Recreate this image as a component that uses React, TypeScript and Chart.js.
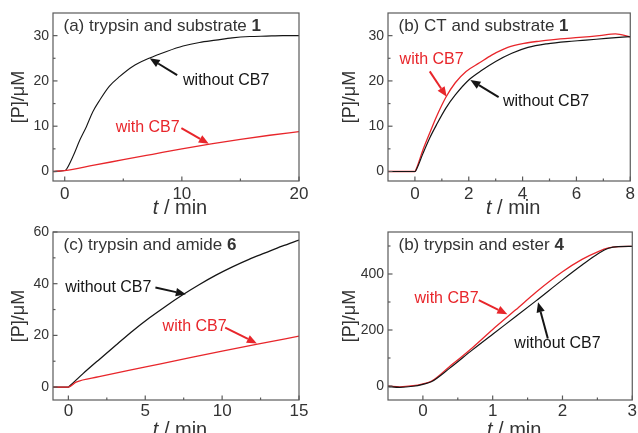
import React, { useEffect, useRef } from "react";
import { Chart, registerables } from "chart.js";
Chart.register(...registerables);

const FONT = "'Liberation Sans', Arial, sans-serif";
const TEXT = "#333333";
const RED = "#e8262b";
const BLACK = "#151515";
const FRAME = "#5a5a5a";

// ---------- Panel (a): trypsin and substrate 1 ----------
const tA_black = [-1, 0, 0.15, 0.7, 1.3, 1.85, 2.4, 3.0, 3.8, 4.7, 5.8, 7.2, 8.7, 10.1, 11.5, 12.9, 14.3, 15.8, 17.2, 18.6, 20];
const pA_black = [0, 0.2, 0.5, 3.3, 7.0, 9.9, 13.2, 15.8, 18.8, 21.0, 23.2, 25.0, 26.5, 27.7, 28.5, 29.0, 29.5, 29.8, 29.9, 30.0, 30.0];
const tA_red = [-1, 0, 2.5, 5, 7.5, 10, 12.5, 15, 17.5, 20];
const pA_red = [0, 0.2, 1.4, 2.6, 3.8, 5.0, 6.1, 7.1, 8.0, 8.8];

// ---------- Panel (b): CT and substrate 1 ----------
const tB_red = [-1, 0, 0.06, 0.3, 0.55, 0.8, 1.15, 1.5, 1.9, 2.4, 2.85, 3.45, 4.05, 4.65, 5.4, 6.1, 6.85, 7.45, 8];
const pB_red = [0, 0, 0.7, 4.8, 8.5, 12.1, 16.4, 19.6, 22.1, 24.0, 25.7, 27.4, 28.3, 28.8, 29.3, 29.6, 30.0, 30.4, 29.7];
const tB_black = [-1, 0, 0.06, 0.3, 0.55, 0.8, 1.15, 1.5, 2.0, 2.5, 3.0, 3.6, 4.2, 4.9, 5.65, 6.35, 7.1, 8];
const pB_black = [0, 0, 0.5, 4.0, 7.4, 10.3, 14.0, 16.9, 20.2, 22.4, 24.3, 26.1, 27.4, 28.2, 28.7, 29.0, 29.4, 29.8];

// ---------- Panel (c): trypsin and amide 6 ----------
const tC_black = [-1, 0, 0.1, 0.97, 2.05, 3.13, 4.2, 5.28, 6.36, 7.44, 8.5, 9.6, 10.67, 11.75, 12.8, 13.9, 15];
const pC_black = [0, 0, 0.5, 5.3, 10.9, 16.4, 21.8, 26.8, 31.4, 35.7, 39.6, 43.3, 46.5, 49.4, 51.9, 54.5, 56.9];
const tC_red = [-1, 0, 0.5, 2, 4, 6, 8, 10, 12.3, 15];
const pC_red = [0, 0, 1.9, 4.0, 6.6, 9.0, 11.5, 13.9, 16.6, 19.7];

// ---------- Panel (d): trypsin and ester 4 ----------
const tD = [-0.5, -0.33, -0.14, 0, 0.12, 0.38, 0.71, 1.0, 1.33, 1.62, 2.0, 2.28, 2.52, 2.66, 2.8, 3.0];
const pD_black = [-2, -5, -1, 6, 15, 63, 129, 185, 248, 304, 379, 432, 474, 492, 498, 499];
const pD_red = [0, -3, 1, 8, 17, 69, 137, 202, 272, 335, 408, 452, 481, 493, 498, 499];

// ---------- tick values ----------
const xMajorA = [0, 10, 20];
const xMinorA = [5, 15];
const yMajorAB = [0, 10, 20, 30];
const yMinorAB = [5, 15, 25];
const xMajorB = [0, 2, 4, 6, 8];
const xMinorB = [1, 3, 5, 7];
const xMajorC = [0, 5, 10, 15];
const xMinorC = [2.5, 7.5, 12.5];
const yMajorC = [0, 20, 40, 60];
const yMinorC = [10, 30, 50];
const xMajorD = [0, 1, 2, 3];
const xMinorD = [0.5, 1.5, 2.5];
const yMajorD = [0, 200, 400];
const yMinorD = [100, 300, 500];

type Ann = {
  text: string; color: string; tx: number; ty: number;
  ax0: number; ay0: number; ax1: number; ay1: number;
};
type Series = { x: number[]; y: number[]; color: string; width: number };
type PanelCfg = {
  left: number; top: number; w: number; h: number;
  area: { l: number; r: number; t: number; b: number };
  xMin: number; xMax: number; yMin: number; yMax: number;
  xMajor: number[]; xMinor: number[]; yMajor: number[]; yMinor: number[];
  title: string; titleBold: string;
  series: Series[];
  anns: Ann[];
  yTitleX: number; xTickPad: number; xTitleOff: number;
};

const panels: PanelCfg[] = [
  {
    left: 0, top: 0, w: 319, h: 216, area: { l: 53, r: 299, t: 13, b: 181 },
    xMin: -1, xMax: 20, yMin: -2.1, yMax: 35,
    xMajor: xMajorA, xMinor: xMinorA, yMajor: yMajorAB, yMinor: yMinorAB,
    title: "(a) trypsin and substrate ", titleBold: "1",
    series: [
      { x: tA_red, y: pA_red, color: RED, width: 1.3 },
      { x: tA_black, y: pA_black, color: BLACK, width: 1.1 },
    ],
    anns: [
      { text: "without CB7", color: BLACK, tx: 10.1, ty: 20.1, ax0: 9.6, ay0: 21.3, ax1: 7.25, ay1: 25.0 },
      { text: "with CB7", color: RED, tx: 4.35, ty: 9.8, ax0: 9.96, ay0: 9.6, ax1: 12.3, ay1: 6.1 },
    ],
    yTitleX: 19, xTickPad: 3, xTitleOff: 27,
  },
  {
    left: 319, top: 0, w: 319, h: 216, area: { l: 69, r: 315, t: 13, b: 181 },
    xMin: -1, xMax: 8, yMin: -2.1, yMax: 35,
    xMajor: xMajorB, xMinor: xMinorB, yMajor: yMajorAB, yMinor: yMinorAB,
    title: "(b) CT and substrate ", titleBold: "1",
    series: [
      { x: tB_black, y: pB_black, color: BLACK, width: 1.2 },
      { x: tB_red, y: pB_red, color: RED, width: 1.3 },
    ],
    anns: [
      { text: "with CB7", color: RED, tx: -0.57, ty: 24.8, ax0: 0.55, ay0: 22.1, ax1: 1.18, ay1: 16.5 },
      { text: "without CB7", color: BLACK, tx: 3.27, ty: 15.45, ax0: 3.11, ay0: 16.4, ax1: 2.06, ay1: 20.2 },
    ],
    yTitleX: 31, xTickPad: 3, xTitleOff: 27,
  },
  {
    left: 0, top: 216, w: 319, h: 217, area: { l: 53, r: 299, t: 16, b: 184 },
    xMin: -1, xMax: 15, yMin: -5, yMax: 60,
    xMajor: xMajorC, xMinor: xMinorC, yMajor: yMajorC, yMinor: yMinorC,
    title: "(c) trypsin and amide ", titleBold: "6",
    series: [
      { x: tC_red, y: pC_red, color: RED, width: 1.3 },
      { x: tC_black, y: pC_black, color: BLACK, width: 1.3 },
    ],
    anns: [
      { text: "without CB7", color: BLACK, tx: -0.21, ty: 38.5, ax0: 5.66, ay0: 38.5, ax1: 7.64, ay1: 35.9 },
      { text: "with CB7", color: RED, tx: 6.13, ty: 23.3, ax0: 10.2, ay0: 23.0, ax1: 12.26, ay1: 16.9 },
    ],
    yTitleX: 19, xTickPad: 1, xTitleOff: 30,
  },
  {
    left: 319, top: 216, w: 319, h: 217, area: { l: 69, r: 315, t: 16, b: 184 },
    xMin: -0.5, xMax: 3, yMin: -50, yMax: 550,
    xMajor: xMajorD, xMinor: xMinorD, yMajor: yMajorD, yMinor: yMinorD,
    title: "(b) trypsin and ester ", titleBold: "4",
    series: [
      { x: tD, y: pD_black, color: BLACK, width: 1.2 },
      { x: tD, y: pD_red, color: RED, width: 1.3 },
    ],
    anns: [
      { text: "with CB7", color: RED, tx: -0.12, ty: 313, ax0: 0.8, ay0: 307, ax1: 1.21, ay1: 256 },
      { text: "without CB7", color: BLACK, tx: 1.31, ty: 152, ax0: 1.79, ay0: 170, ax1: 1.65, ay1: 299 },
    ],
    yTitleX: 31, xTickPad: 1, xTitleOff: 30,
  },
];

function drawArrow(ctx: CanvasRenderingContext2D, x0: number, y0: number, x1: number, y1: number, color: string) {
  const ang = Math.atan2(y1 - y0, x1 - x0);
  const hl = 10, hw = 4.2;
  const bx = x1 - hl * Math.cos(ang);
  const by = y1 - hl * Math.sin(ang);
  ctx.strokeStyle = color;
  ctx.lineWidth = 2;
  ctx.beginPath();
  ctx.moveTo(x0, y0);
  ctx.lineTo(bx, by);
  ctx.stroke();
  ctx.fillStyle = color;
  ctx.beginPath();
  ctx.moveTo(x1, y1);
  ctx.lineTo(bx + hw * Math.sin(ang), by - hw * Math.cos(ang));
  ctx.lineTo(bx - hw * Math.sin(ang), by + hw * Math.cos(ang));
  ctx.closePath();
  ctx.fill();
}

function Panel({ cfg }: { cfg: PanelCfg }) {
  const ref = useRef<HTMLCanvasElement>(null);
  useEffect(() => {
    const canvas = ref.current!;
    const decor = {
      id: "decor",
      afterDatasetsDraw(chart: any) {
        const { ctx, chartArea: a } = chart;
        const xs = chart.scales.x, ys = chart.scales.y;
        ctx.save();
        // annotations
        for (const an of cfg.anns) {
          ctx.font = `16px ${FONT}`;
          ctx.fillStyle = an.color;
          ctx.textBaseline = "middle";
          ctx.textAlign = "left";
          ctx.fillText(an.text, xs.getPixelForValue(an.tx), ys.getPixelForValue(an.ty));
          drawArrow(ctx, xs.getPixelForValue(an.ax0), ys.getPixelForValue(an.ay0),
            xs.getPixelForValue(an.ax1), ys.getPixelForValue(an.ay1), an.color);
        }
        // panel title
        ctx.fillStyle = TEXT;
        ctx.textBaseline = "middle";
        ctx.textAlign = "left";
        ctx.font = `17px ${FONT}`;
        const tx = a.left + 10.5, ty = a.top + 13.5;
        ctx.fillText(cfg.title, tx, ty);
        const tw = ctx.measureText(cfg.title).width;
        ctx.font = `bold 17px ${FONT}`;
        ctx.fillText(cfg.titleBold, tx + tw, ty);
        // frame
        ctx.strokeStyle = FRAME;
        ctx.lineWidth = 1.2;
        ctx.strokeRect(a.left, a.top, a.right - a.left, a.bottom - a.top);
        // inward ticks
        const tick = (vals: number[], len: number, horiz: boolean) => {
          for (const v of vals) {
            ctx.beginPath();
            if (horiz) {
              const px = xs.getPixelForValue(v);
              ctx.moveTo(px, a.bottom);
              ctx.lineTo(px, a.bottom - len);
            } else {
              const py = ys.getPixelForValue(v);
              ctx.moveTo(a.left, py);
              ctx.lineTo(a.left + len, py);
            }
            ctx.stroke();
          }
        };
        tick(cfg.xMajor, 4.5, true);
        tick(cfg.xMinor, 2.5, true);
        tick(cfg.yMajor, 4.5, false);
        tick(cfg.yMinor, 2.5, false);
        // x-axis title: italic t / min
        ctx.fillStyle = TEXT;
        ctx.font = `italic 20px ${FONT}`;
        const wt = ctx.measureText("t").width;
        ctx.font = `20px ${FONT}`;
        const wr = ctx.measureText(" / min").width;
        const cx = (a.left + a.right) / 2 + 4;
        const sx = cx - (wt + wr) / 2;
        const yy = a.bottom + cfg.xTitleOff;
        ctx.font = `italic 20px ${FONT}`;
        ctx.fillText("t", sx, yy);
        ctx.font = `20px ${FONT}`;
        ctx.fillText(" / min", sx + wt, yy);
        ctx.restore();
      },
    };
    const chart = new Chart(canvas, {
      type: "line",
      data: {
        datasets: cfg.series.map((s) => ({
          data: s.x.map((x, i) => ({ x, y: s.y[i] })),
          borderColor: s.color,
          borderWidth: s.width,
          pointRadius: 0,
          fill: false,
          cubicInterpolationMode: "monotone" as const,
        })),
      },
      options: {
        animation: false,
        responsive: false,
        devicePixelRatio: 1,
        events: [],
        layout: { padding: { left: 0, top: cfg.area.t, right: cfg.w - cfg.area.r, bottom: 0 } },
        plugins: { legend: { display: false }, tooltip: { enabled: false } },
        scales: {
          x: {
            type: "linear",
            min: cfg.xMin,
            max: cfg.xMax,
            grid: { display: false, drawTicks: false },
            border: { display: false },
            ticks: {
              autoSkip: false, maxRotation: 0, minRotation: 0,
              padding: cfg.xTickPad, color: TEXT,
              font: { family: FONT, size: 17 },
            },
            afterBuildTicks: (s: any) => { s.ticks = cfg.xMajor.map((v) => ({ value: v })); },
            afterFit: (s: any) => { s.height = cfg.h - cfg.area.b; },
          },
          y: {
            type: "linear",
            min: cfg.yMin,
            max: cfg.yMax,
            grid: { display: false, drawTicks: false },
            border: { display: false },
            ticks: {
              autoSkip: false, padding: 4, color: TEXT,
              font: { family: FONT, size: 14 },
            },
            title: {
              display: true, text: "[P]/μM", color: TEXT,
              font: { family: FONT, size: 18, lineHeight: 1.2 },
              padding: { top: cfg.yTitleX - 10.8, bottom: 0 },
            },
            afterBuildTicks: (s: any) => { s.ticks = cfg.yMajor.map((v) => ({ value: v })); },
            afterFit: (s: any) => { s.width = cfg.area.l; },
          },
        },
      },
      plugins: [decor],
    } as any);
    return () => chart.destroy();
  }, [cfg]);
  return (
    <canvas
      ref={ref}
      width={cfg.w}
      height={cfg.h}
      style={{ position: "absolute", left: cfg.left, top: cfg.top, width: cfg.w, height: cfg.h }}
    />
  );
}

export default function App() {
  return (
    <div style={{ position: "fixed", left: 0, top: 0, width: 638, height: 433, background: "#fff", overflow: "hidden" }}>
      {panels.map((p, i) => (
        <Panel key={i} cfg={p} />
      ))}
    </div>
  );
}
